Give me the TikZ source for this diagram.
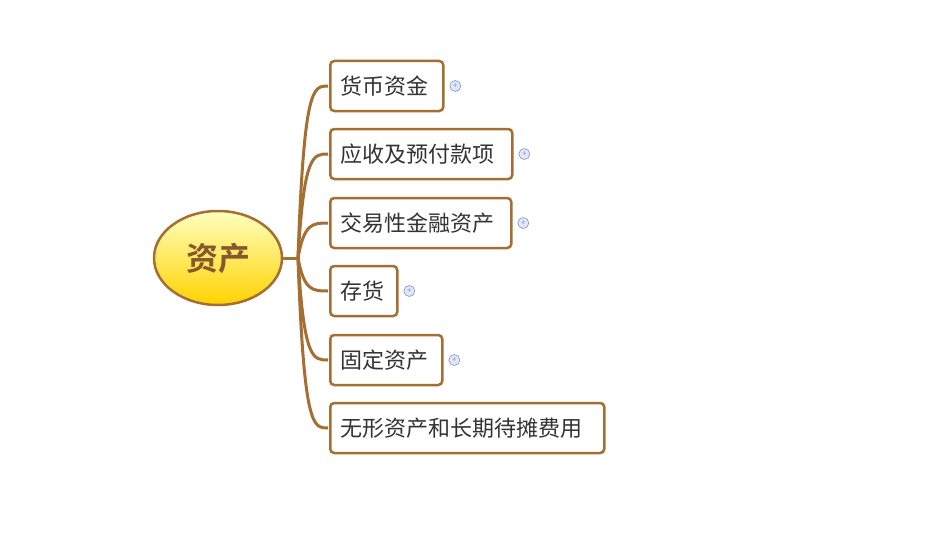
\documentclass[tikz,border=0pt]{standalone}
\usepackage{fontspec}
\setmainfont{Noto Sans CJK SC}[BoldFont={Noto Sans CJK SC Bold}]
\usetikzlibrary{shapes.geometric,positioning}
\definecolor{br}{RGB}{165,110,50}
\definecolor{pl}{RGB}{120,150,190}
\begin{document}
\begin{tikzpicture}[x=1pt,y=-1pt,
  topic/.style={draw=br,line width=2.5pt,rounded corners=4pt,fill=white,inner xsep=10pt,inner ysep=0pt,minimum height=50pt,anchor=west,text=black!80,align=left,font=\fontsize{22}{24}\selectfont},
  conn/.style={draw=br,line width=3pt},
  plusic/.style={circle,draw=pl,fill=blue!10,line width=0.6pt,minimum size=11pt,inner sep=0pt,font=\fontsize{8}{8}\selectfont,text=pl}]
\useasboundingbox (0,0) rectangle (950,535);
\node[ellipse,draw=br,line width=2.5pt,top color=yellow!25!white,bottom color=yellow!65!orange,minimum width=128pt,minimum height=94pt,text=brown!70!black,font=\fontsize{32}{34}\selectfont\bfseries] (c) at (218,258) {资产};
\node[topic,text width=93pt] (a1) at (329,86) {货币资金};
\node[topic,text width=162pt] (a2) at (329,154) {应收及预付款项};
\node[topic,text width=161pt] (a3) at (329,223) {交易性金融资产};
\node[topic,text width=47pt] (a4) at (329,291) {存货};
\node[topic,text width=92pt] (a5) at (329,360) {固定资产};
\node[topic,text width=254pt] (a6) at (329,428) {无形资产和长期待摊费用};
\coordinate (j) at (298,258);
\draw[conn] (c.east) -- (j);
\foreach \n in {a1,a2,a3,a4,a5,a6}{
  \draw[conn] (j) .. controls ([xshift=6pt]j|-\n.west) and ([xshift=-16pt]\n.west) .. ([xshift=-1pt]\n.west);
}
\foreach \n/\m in {a1/p1,a2/p2,a3/p3,a4/p4,a5/p5}{
  \node[plusic,right=5pt of \n.east] (\m) {+};
}
\end{tikzpicture}
\end{document}
